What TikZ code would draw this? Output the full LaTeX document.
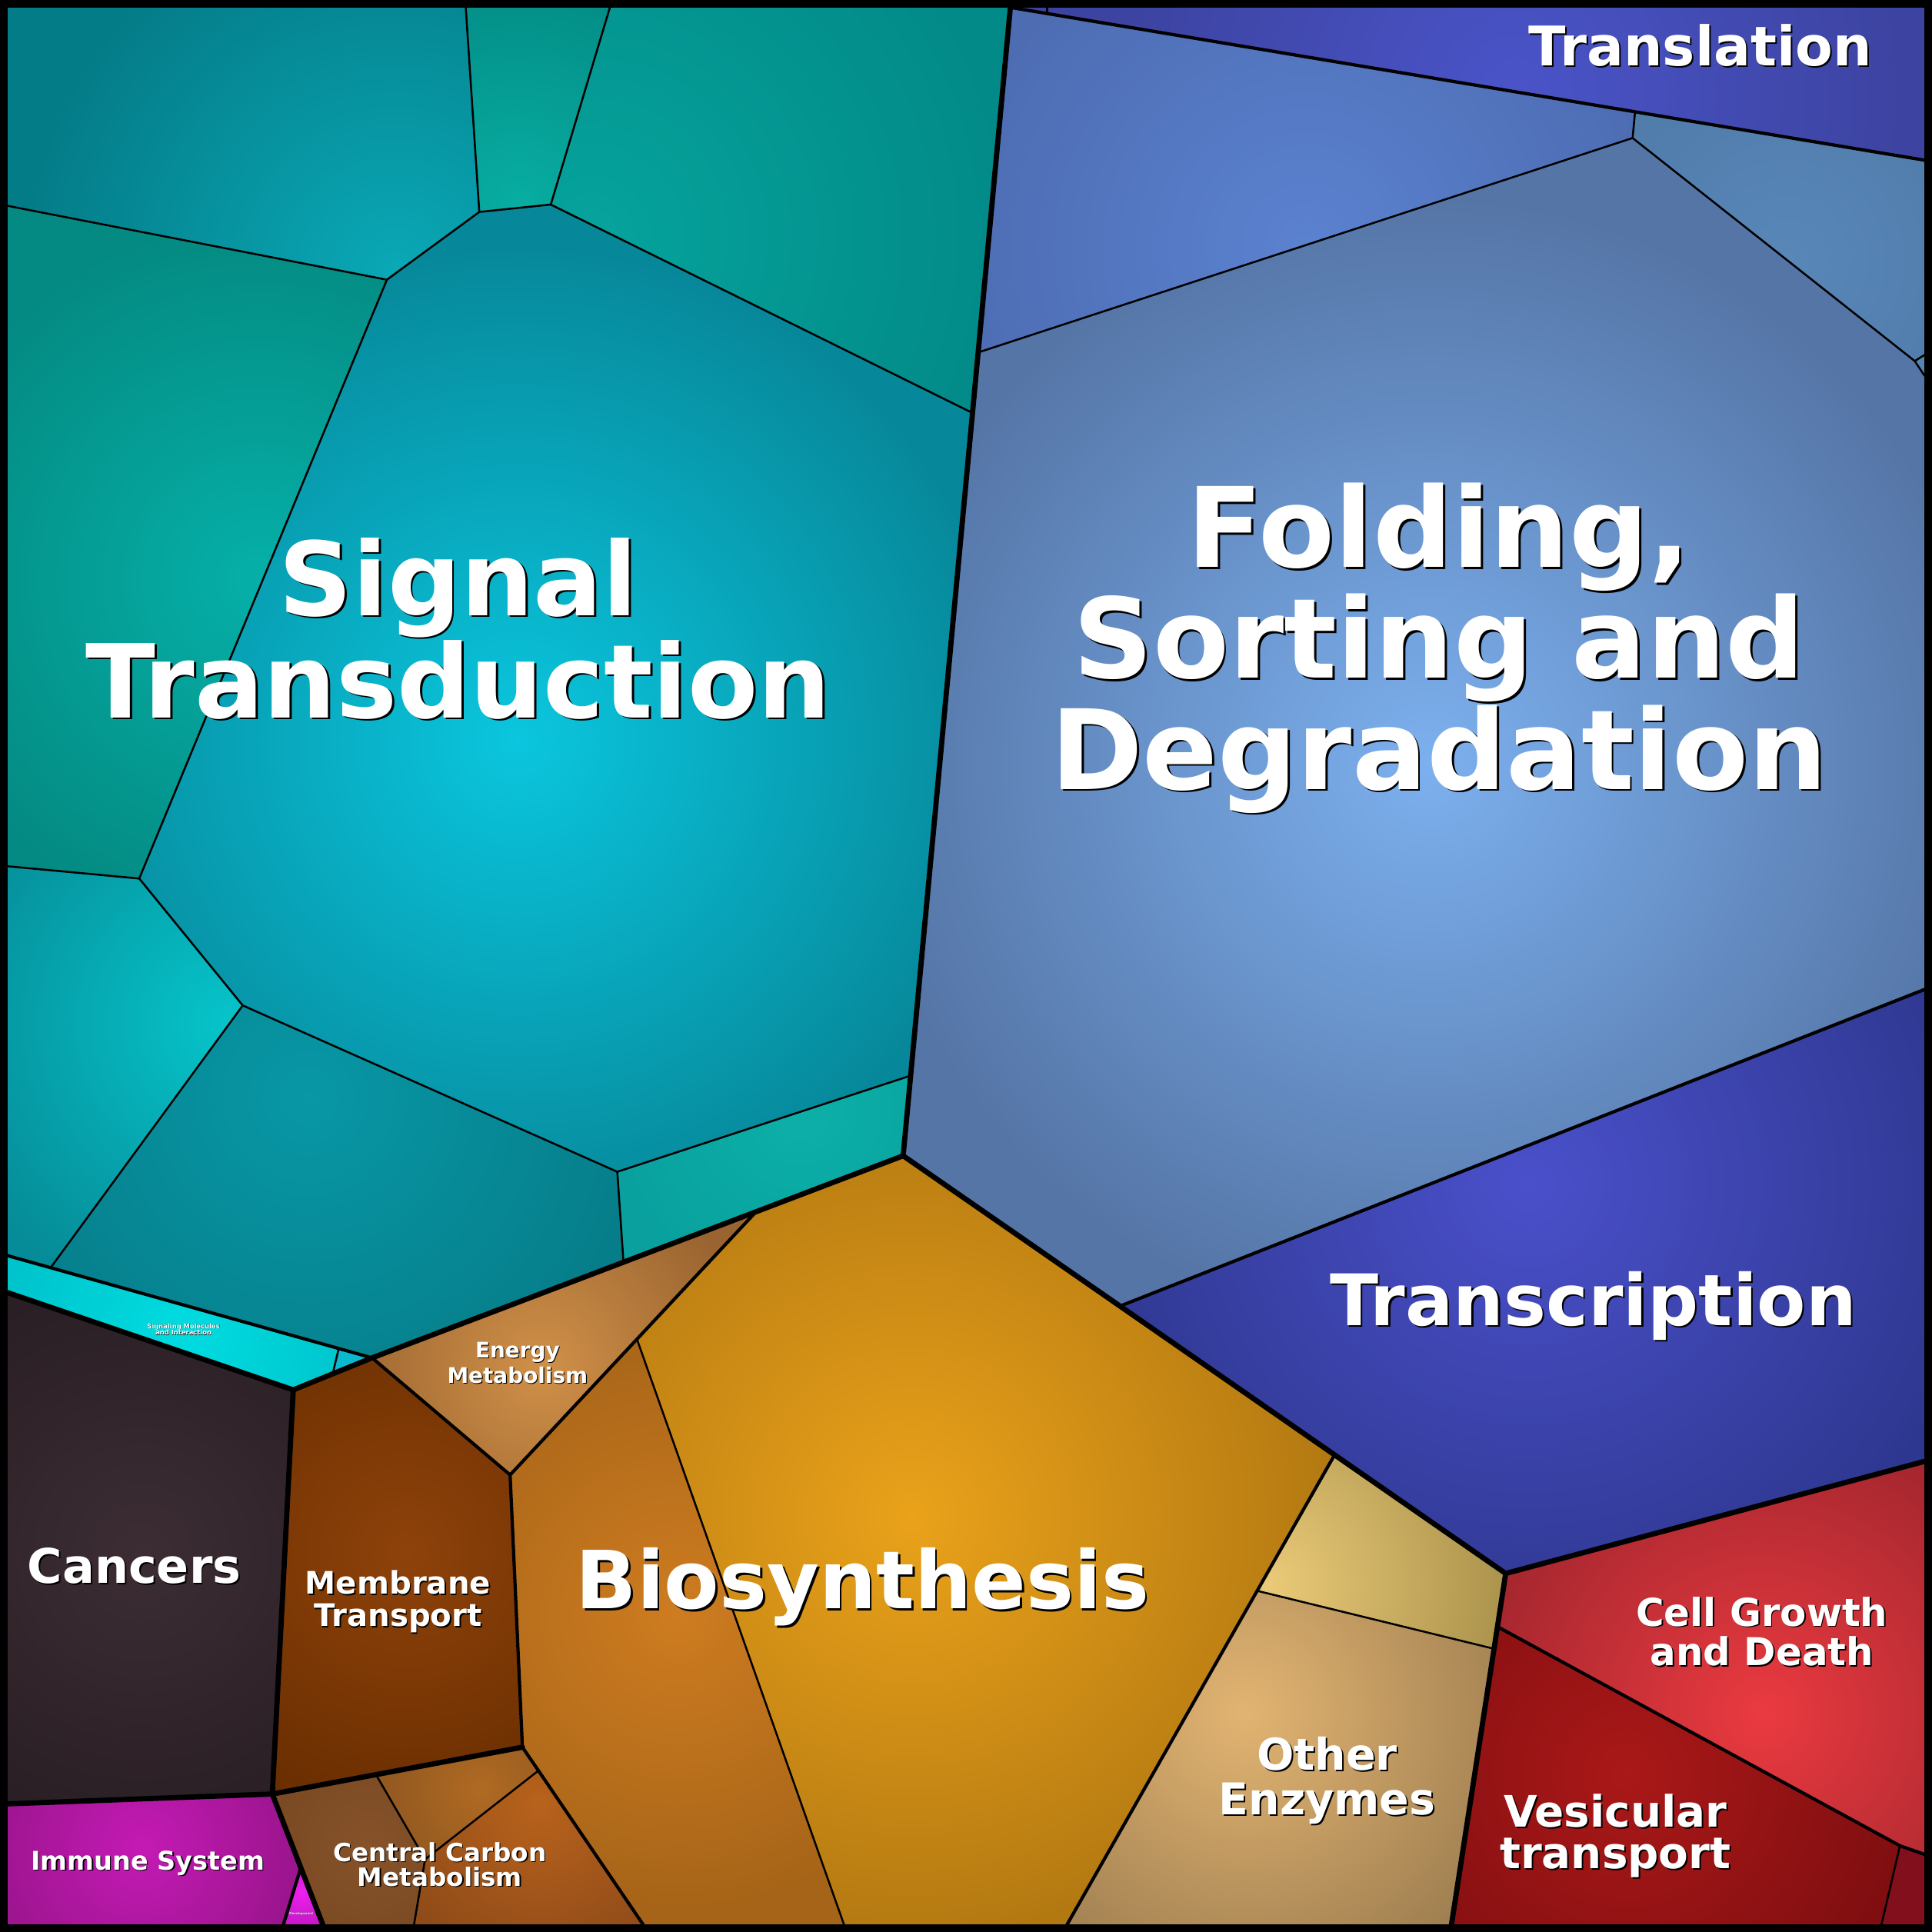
\documentclass[tikz,border=0pt]{standalone}
\usepackage{fontspec}
\usepackage{tikz}
\newfontfamily\lblfont{DejaVu Sans}
\tikzstyle{thinln}=[line width=0.45pt,line cap=round,line join=round]
\tikzstyle{midln}=[line width=0.75pt,line cap=round,line join=round]
\tikzstyle{thickln}=[line width=1.2pt,line cap=round,line join=round]
\tikzstyle{lbl}=[text=white,align=center,inner sep=0pt]
\tikzstyle{shd}=[lbl,text=black]
\newcommand{\vcell}[5]{\begin{scope}
  \definecolor{ci}{HTML}{#3}\definecolor{co}{HTML}{#4}
  \clip #1;
  \fill[co] #1;
  \shade[inner color=ci,outer color=co] #2 circle[radius=#5];
\end{scope}}
\newcommand{\catlabel}[6]{%
  \node[shd,font=\lblfont\bfseries\fontsize{#3}{#4}\selectfont,xshift=#5,yshift=-#5] (#1s) at #2 {#6};
  \node[lbl,font=\lblfont\bfseries\fontsize{#3}{#4}\selectfont] (#1) at #2 {#6};}

\begin{document}
\begin{tikzpicture}[x=0.01cm,y=-0.01cm]
\useasboundingbox (0,0) rectangle (1568,1568);
\fill[black] (0,0) rectangle (1568,1568);
\coordinate (tl) at (6,6);
\coordinate (tr) at (1562,6);
\coordinate (br) at (1562,1562);
\coordinate (bl) at (6,1562);
\coordinate (gA) at (820,6);
\coordinate (hub) at (733,938);
\coordinate (s1) at (378,6);
\coordinate (s2) at (495,6);
\coordinate (s3) at (389,172);
\coordinate (s4) at (447,166);
\coordinate (s5) at (314,227);
\coordinate (s6) at (6,167);
\coordinate (s7) at (789,335);
\coordinate (s9) at (113,713);
\coordinate (s10) at (6,703);
\coordinate (s11) at (197,816);
\coordinate (s12) at (739,873);
\coordinate (s13) at (501,951);
\coordinate (s15) at (506,1024);
\coordinate (s16) at (614,983);
\coordinate (s17) at (302,1102);
\coordinate (s18) at (41,1029);
\coordinate (s19) at (6,1019);
\coordinate (s20) at (238,1128);
\coordinate (s21) at (6,1049);
\coordinate (s22) at (275,1094);
\coordinate (s23) at (270,1115);
\coordinate (f1) at (1327,91);
\coordinate (f2) at (1562,130);
\coordinate (f3) at (1325,112);
\coordinate (f4) at (794,286);
\coordinate (f5) at (1554,293);
\coordinate (f6) at (1562,288);
\coordinate (f7) at (1562,305);
\coordinate (f8) at (1562,803);
\coordinate (f9) at (909,1060);
\coordinate (t1) at (850,6);
\coordinate (t2) at (850,11);
\coordinate (c1) at (1562,1186);
\coordinate (c2) at (1222,1277);
\coordinate (m1) at (414,1197);
\coordinate (m2) at (517,1087);
\coordinate (m3) at (1083,1181);
\coordinate (m4) at (1020,1291);
\coordinate (m5) at (1212,1338);
\coordinate (m6) at (866,1562);
\coordinate (m7) at (685,1562);
\coordinate (m8) at (424,1418);
\coordinate (m9) at (437,1437);
\coordinate (m10) at (522,1562);
\coordinate (m11) at (221,1456);
\coordinate (e1) at (305,1440);
\coordinate (e2) at (336,1562);
\coordinate (e3) at (345,1509);
\coordinate (e4) at (262,1562);
\coordinate (k1) at (6,1464);
\coordinate (g1) at (244,1516);
\coordinate (g2) at (230,1562);
\coordinate (h1) at (1562,1505);
\coordinate (h2) at (1542,1498);
\coordinate (h3) at (1215,1320);
\coordinate (h4) at (1527,1562);
\coordinate (h5) at (1178,1562);

\vcell{(tl)--(s1)--(s3)--(s5)--(s6)--cycle}{(320,220)}{0AA8B6}{047C88}{300}
\vcell{(s1)--(s2)--(s4)--(s3)--cycle}{(420,165)}{08ADA2}{038F88}{170}
\vcell{(s2)--(gA)--(s7)--(s4)--cycle}{(480,190)}{06A39C}{028A88}{340}
\vcell{(s6)--(s5)--(s9)--(s10)--cycle}{(210,470)}{05B0A8}{048A82}{290}
\vcell{(s3)--(s4)--(s7)--(s12)--(s13)--(s11)--(s9)--(s5)--cycle}{(420,600)}{0AC6DE}{07889A}{400}
\vcell{(s10)--(s9)--(s11)--(s18)--(s19)--cycle}{(185,830)}{06C4CA}{068C98}{240}
\vcell{(s18)--(s11)--(s13)--(s15)--(s17)--cycle}{(250,890)}{0897A6}{067C88}{290}
\vcell{(s13)--(s12)--(hub)--(s15)--cycle}{(650,900)}{0CB0A8}{09A09E}{160}
\vcell{(s19)--(s22)--(s23)--(s20)--(s21)--cycle}{(150,1080)}{00DCE0}{00BCC6}{190}
\vcell{(s22)--(s17)--(s23)--cycle}{(285,1105)}{0BB8CE}{0BB8CE}{40}
\vcell{(gA)--(tr)--(f2)--cycle}{(1230,75)}{4A54C8}{3C43A0}{320}
\vcell{(gA)--(f1)--(f3)--(f4)--cycle}{(1060,200)}{5B82D0}{4D6CB2}{290}
\vcell{(f1)--(f2)--(f6)--(f5)--(f3)--cycle}{(1450,210)}{5887B8}{4F7AA8}{190}
\vcell{(f5)--(f6)--(f7)--cycle}{(1558,296)}{5585B2}{5585B2}{20}
\vcell{(f4)--(f3)--(f5)--(f7)--(f8)--(f9)--(hub)--cycle}{(1160,620)}{7CB0EE}{5575A6}{460}
\vcell{(f9)--(f8)--(c1)--(c2)--cycle}{(1240,960)}{4A50CA}{2E378F}{380}
\vcell{(s17)--(s16)--(m1)--cycle}{(440,1110)}{D09048}{9A6430}{170}
\vcell{(m2)--(s16)--(hub)--(m3)--(m6)--(m7)--cycle}{(740,1230)}{EAA21A}{AA7210}{400}
\vcell{(m1)--(m2)--(m7)--(m10)--(m9)--(m8)--cycle}{(550,1310)}{CE7C20}{A66418}{240}
\vcell{(s20)--(s17)--(m1)--(m8)--(m11)--cycle}{(330,1260)}{8E420A}{662C00}{240}
\vcell{(m11)--(e1)--(e3)--(e2)--(e4)--cycle}{(300,1500)}{86522A}{6E421C}{160}
\vcell{(e1)--(m8)--(m9)--(e3)--cycle}{(390,1452)}{B06A22}{8A5420}{100}
\vcell{(e3)--(m9)--(m10)--(e2)--cycle}{(438,1465)}{B8621C}{864618}{160}
\vcell{(m3)--(c2)--(m5)--(m4)--cycle}{(1030,1285)}{EACA78}{A68E48}{210}
\vcell{(m4)--(m5)--(h5)--(m6)--cycle}{(1010,1390)}{E2B472}{9E7E50}{240}
\vcell{(s21)--(s20)--(m11)--(k1)--cycle}{(115,1260)}{3C2D34}{281E23}{240}
\vcell{(k1)--(m11)--(g1)--(g2)--(bl)--cycle}{(115,1500)}{C41AB4}{86127A}{190}
\vcell{(g1)--(e4)--(g2)--cycle}{(245,1535)}{EE20EE}{B010B0}{45}
\vcell{(c2)--(c1)--(h1)--(h2)--(h3)--cycle}{(1430,1390)}{EA3A40}{A4262E}{240}
\vcell{(h3)--(h2)--(h4)--(h5)--cycle}{(1320,1440)}{AA1818}{7E0E10}{240}
\vcell{(h2)--(h1)--(br)--(h4)--cycle}{(1550,1530)}{82101C}{82101C}{40}

\draw[thinln] (s1)--(s3)--(s5)--(s6);
\draw[thinln] (s3)--(s4);
\draw[thinln] (s2)--(s4)--(s7);
\draw[thinln] (s5)--(s9)--(s10);
\draw[thinln] (s9)--(s11)--(s18);
\draw[thinln] (s11)--(s13)--(s12);
\draw[thinln] (s13)--(s15);
\draw[thinln] (s22)--(s23);
\draw[thinln] (f1)--(f3)--(f4);
\draw[thinln] (f3)--(f5)--(f6);
\draw[thinln] (f5)--(f7);
\draw[thinln] (t1)--(t2);
\draw[thinln] (m2)--(m7);
\draw[thinln] (e1)--(e3)--(e2);
\draw[thinln] (e3)--(m9);
\draw[thinln] (m4)--(m5);
\draw[thinln] (h2)--(h4);
\draw[midln] (gA)--(f2);
\draw[midln] (f9)--(f8);
\draw[midln] (s19)--(s17);
\draw[midln] (s17)--(m1);
\draw[midln] (s16)--(m1)--(m8)--(m9)--(m10);
\draw[midln] (m3)--(m6);
\draw[midln] (h3)--(h2)--(h1);
\draw[midln] (g1)--(g2);
\draw[thickln] (gA)--(hub)--(s17)--(s20)--(m11)--(k1);
\draw[thickln] (s21)--(s20);
\draw[thickln] (m11)--(m8);
\draw[thickln] (m11)--(e4);
\draw[thickln] (hub)--(c2)--(c1);
\draw[thickln] (c2)--(h5);
\draw[line width=1.8pt] (3,3) rectangle (1565,1565);

\catlabel{signal}{(372,510)}{23.6pt}{23.6pt}{0.5pt}{Signal\\Transduction}
\catlabel{folding}{(1168,526)}{25.6pt}{25.6pt}{0.5pt}{Folding,\\Sorting and\\Degradation}
\catlabel{translation}{(1380,37)}{12.6pt}{12.6pt}{0.35pt}{Translation}
\catlabel{transcription}{(1293,1060)}{16.4pt}{16.4pt}{0.4pt}{Transcription}
\catlabel{biosynth}{(700,1288)}{18.5pt}{18.5pt}{0.45pt}{Biosynthesis}
\catlabel{cancers}{(109,1271)}{11pt}{11pt}{0.35pt}{Cancers}
\catlabel{membrane}{(323,1300)}{7.15pt}{7.4pt}{0.3pt}{Membrane\\Transport}
\catlabel{immune}{(120,1512)}{5.95pt}{6pt}{0.25pt}{Immune System}
\catlabel{energy}{(420,1106)}{4.95pt}{4.45pt}{0.2pt}{Energy\\Metabolism}
\catlabel{carbon}{(357,1513)}{5.8pt}{5.7pt}{0.25pt}{Central Carbon\\Metabolism}
\catlabel{enzymes}{(1077,1445)}{10.1pt}{10.3pt}{0.35pt}{Other\\Enzymes}
\catlabel{growth}{(1430,1324)}{8.85pt}{9.1pt}{0.3pt}{Cell Growth\\and Death}
\catlabel{vesicular}{(1311,1490)}{10pt}{9.7pt}{0.35pt}{Vesicular\\transport}
\catlabel{signaling}{(149,1079)}{1.49pt}{1.5pt}{0.06pt}{Signaling Molecules\\and Interaction}
\catlabel{develop}{(244.5,1553)}{0.74pt}{0.75pt}{0.03pt}{Development}
\end{tikzpicture}
\end{document}
